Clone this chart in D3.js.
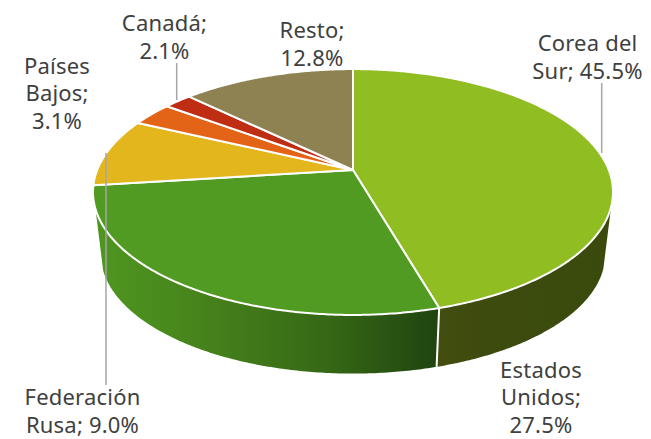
<!DOCTYPE html>
<html>
<head>
<meta charset="utf-8">
<script src="https://cdn.jsdelivr.net/npm/d3@7"></script>
<style>
  html, body { margin: 0; padding: 0; background: #fff; }
  svg { display: block; }
  text { font-family: "Noto Sans", sans-serif; font-size: 22px; letter-spacing: 0.2px; fill: #404040; }
</style>
</head>
<body>
<svg></svg>
<script>
const width = 651;
const height = 439;

// chart data
const categories = ['Corea del Sur', 'Estados Unidos', 'Federación Rusa', 'Países Bajos', 'Canadá', 'Resto'];
const shares = [45.5, 27.5, 9.0, 3.1, 2.1, 12.8];
const colors = ['#8fbd22', '#519b22', '#e2b61c', '#e46417', '#bf2d13', '#8e8253'];

// label text is broken the same way as the picture
const labelLines = [
  ['Corea del', 'Sur; 45.5%'],
  ['Estados', 'Unidos;', '27.5%'],
  ['Federación', 'Rusa; 9.0%'],
  ['Países', 'Bajos;', '3.1%'],
  ['Canadá;', '2.1%'],
  ['Resto;', '12.8%']
];

const svg = d3.select('svg')
  .attr('width', width)
  .attr('height', height);

const defs = svg.append('defs');

// tilted disc: a circle seen in perspective, so the far half looks shallower
const cx = 353;
const cy = 170;
const tilt = 0.179;
const radiusX = 255.8;
const radiusY = 119;
const depthDrop = 63;
const depthScale = 0.97;

function rim(angle) {
  const d = 1 + tilt * Math.cos(angle);
  return [radiusX * Math.sin(angle) / d, -radiusY * Math.cos(angle) / d];
}
const topRim = (a) => {
  const p = rim(a);
  return [cx + p[0], cy + p[1]];
};
const lowRim = (a) => {
  const p = rim(a);
  return [cx + p[0] * depthScale, cy + depthDrop + p[1] * depthScale];
};

const pie = d3.pie().sort(null).value((d) => d);
const slices = pie(shares);
const line = d3.line();

function samples(a0, a1) {
  const n = Math.max(2, Math.ceil((a1 - a0) / 0.01));
  return d3.range(n + 1).map((i) => a0 + (a1 - a0) * i / n);
}

// side wall, only the part facing us
const wallFrom = 107 * Math.PI / 180;
const wallTo = 252 * Math.PI / 180;

function wallGradient(id, stops) {
  const g = defs.append('linearGradient')
    .attr('id', id)
    .attr('gradientUnits', 'userSpaceOnUse')
    .attr('x1', 93).attr('x2', 613).attr('y1', 0).attr('y2', 0);
  stops.forEach((s) => g.append('stop').attr('offset', s[0]).attr('stop-color', s[1]));
}
wallGradient('wall-0', [[0.66, '#434e0f'], [0.75, '#3d4b0e'], [1, '#3a4a0d']]);
wallGradient('wall-1', [[0, '#4f9720'], [0.2, '#47841c'], [0.45, '#366815'], [0.66, '#204410']]);

const walls = slices.slice(0, 2).map((s, i) => {
  const a0 = Math.max(s.startAngle, wallFrom);
  const a1 = Math.min(s.endAngle, wallTo);
  return { i: i, a0: a0, a1: a1 };
});

svg.append('g').selectAll('path')
  .data(walls)
  .join('path')
    .attr('d', (d) => {
      const as = samples(d.a0, d.a1);
      return line(as.map(topRim).concat(as.slice().reverse().map(lowRim))) + 'Z';
    })
    .attr('fill', (d) => `url(#wall-${d.i})`);

// seam between the two walls
const seam = slices[0].endAngle;
svg.append('path')
  .attr('d', line([topRim(seam), lowRim(seam)]))
  .attr('stroke', '#fff')
  .attr('stroke-width', 2)
  .attr('fill', 'none');

// top face
svg.append('g').selectAll('path')
  .data(slices)
  .join('path')
    .attr('d', (d) => line([[cx, cy]].concat(samples(d.startAngle, d.endAngle).map(topRim))) + 'Z')
    .attr('fill', (d, i) => colors[i])
    .attr('stroke', '#fff')
    .attr('stroke-width', 2)
    .attr('stroke-linejoin', 'round');

// leader lines
const leaders = [
  [[601.7, 83], [601.7, 153]],
  [[106, 153], [106, 385]],
  [[176.7, 63], [176.7, 100]]
];
svg.append('g').selectAll('path')
  .data(leaders)
  .join('path')
    .attr('d', (d) => line(d))
    .attr('stroke', '#a6a6a6')
    .attr('stroke-width', 1.5)
    .attr('fill', 'none');

// labels, x is the centre of the block and y the first baseline
const labelPos = [[587.5, 51], [541, 377.5], [82.5, 405], [57, 73.5], [164.5, 31], [312, 38]];
const lineGap = 27.5;

const labels = svg.append('g').selectAll('text')
  .data(labelLines)
  .join('text')
    .attr('text-anchor', 'middle')
    .attr('transform', (d, i) => `translate(${labelPos[i][0]},${labelPos[i][1]})`);
labels.selectAll('tspan')
  .data((d) => d)
  .join('tspan')
    .attr('x', 0)
    .attr('y', (d, i) => i * lineGap)
    .text((d) => d);
</script>
</body>
</html>
